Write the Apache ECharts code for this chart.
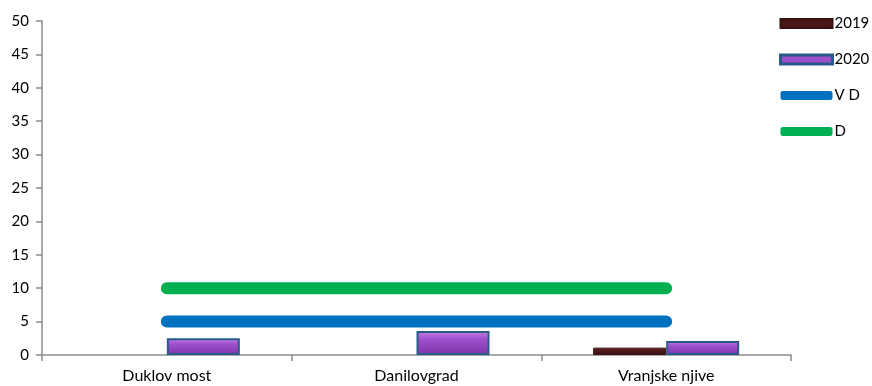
<!DOCTYPE html>
<html lang="en">
<head>
<meta charset="utf-8">
<script src="https://cdn.jsdelivr.net/npm/echarts@6/dist/echarts.min.js"></script>
<style>
  * { margin: 0; padding: 0; }
  body { background: #fff; }
</style>
</head>
<body>
<div id="main" style="width:872px;height:386px;"></div>
<script>
var categories = ['Duklov most', 'Danilovgrad', 'Vranjske njive'];
var values2019 = ['-', '-', 1.1];
var values2020 = [2.5, 3.6, 2.1];
var limitVD = [5, 5, 5];
var limitD = [10, 10, 10];
var yTicks = [0, 50, 5]; // min, max, step

var chart = echarts.init(document.getElementById('main'));
var font = 'Lato, "Open Sans", sans-serif';

var option = {
    animation: false,
    grid: { left: 42, right: 81, top: 21, bottom: 31 },
    legend: {
        orient: 'vertical',
        left: 774,
        top: 11,
        itemWidth: 52,
        itemHeight: 9,
        itemGap: 21,
        textStyle: { fontFamily: font, fontSize: 15, color: '#000', padding: [0, 0, 0, -3] },
        data: [
            { name: '2019', icon: 'rect', itemStyle: { color: '#4a1717' } },
            { name: '2020', icon: 'rect', itemStyle: { color: '#9b4dca', borderColor: '#2a5a8a', borderWidth: 3 } },
            { name: 'V D', icon: 'roundRect', itemStyle: { color: '#0070c0' } },
            { name: 'D', icon: 'roundRect', itemStyle: { color: '#00b050' } }
        ]
    },
    xAxis: {
        type: 'category',
        data: categories,
        axisLine: { lineStyle: { color: '#8c8c8c', width: 1.5 } },
        axisTick: { show: true, length: 6, lineStyle: { color: '#8c8c8c', width: 1.5 } },
        axisLabel: { fontFamily: font, fontSize: 16, color: '#000', margin: 13 }
    },
    yAxis: {
        type: 'value',
        min: yTicks[0],
        max: yTicks[1],
        interval: yTicks[2],
        splitLine: { show: false },
        axisLine: { show: true, lineStyle: { color: '#8c8c8c', width: 1.5 } },
        axisTick: { show: true, length: 6, lineStyle: { color: '#8c8c8c', width: 1.5 } },
        axisLabel: { fontFamily: font, fontSize: 15, color: '#000', margin: 13 }
    },
    series: [
        {
            name: '2019',
            type: 'bar',
            data: values2019,
            barWidth: 73,
            barGap: '0%',
            itemStyle: {
                color: new echarts.graphic.LinearGradient(0, 0, 0, 1, [
                    { offset: 0, color: '#6b2424' },
                    { offset: 0.5, color: '#4a1717' },
                    { offset: 1, color: '#3a1010' }
                ]),
                borderColor: '#3a1010',
                borderWidth: 1
            },
            z: 2
        },
        {
            name: '2020',
            type: 'bar',
            data: values2020,
            barWidth: 73,
            barGap: '0%',
            itemStyle: {
                color: new echarts.graphic.LinearGradient(0, 0, 0, 1, [
                    { offset: 0, color: '#c77ee6' },
                    { offset: 0.35, color: '#9d4fcc' },
                    { offset: 1, color: '#7d35a8' }
                ]),
                borderColor: '#2a5a8a',
                borderWidth: 2
            },
            z: 2
        },
        {
            name: 'V D',
            type: 'line',
            data: limitVD,
            symbol: 'none',
            lineStyle: { color: '#0070c0', width: 12, cap: 'round' },
            itemStyle: { color: '#0070c0' },
            z: 3
        },
        {
            name: 'D',
            type: 'line',
            data: limitD,
            symbol: 'none',
            lineStyle: { color: '#00b050', width: 12, cap: 'round' },
            itemStyle: { color: '#00b050' },
            z: 3
        }
    ]
};

chart.setOption(option);
</script>
</body>
</html>
